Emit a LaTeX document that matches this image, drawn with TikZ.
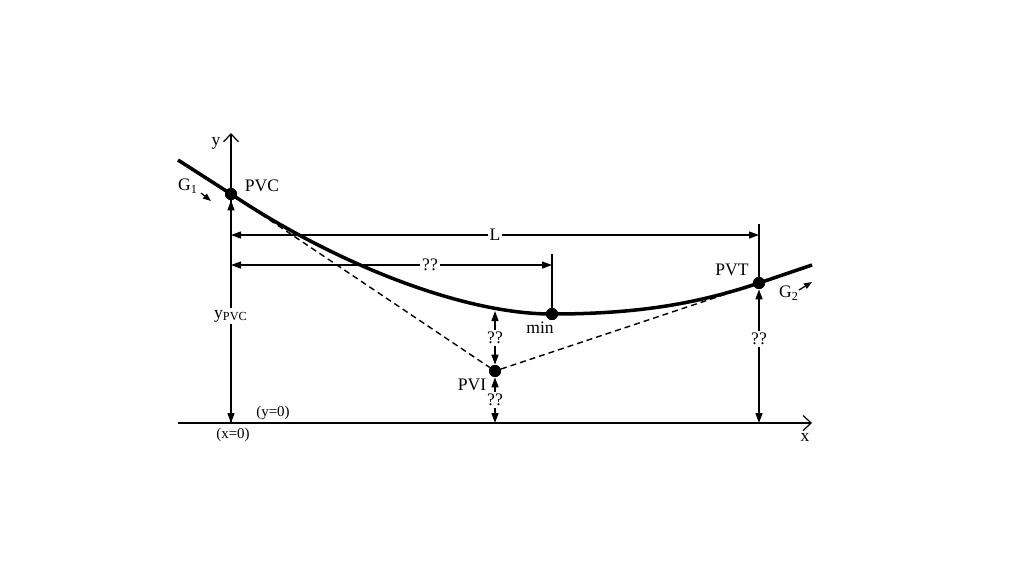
\documentclass[tikz,border=0pt]{standalone}
\usepackage{fontspec}
\setmainfont{Liberation Serif}
\usetikzlibrary{positioning,calc,arrows.meta}
\tikzset{
	%points on the profile and text
	pt/.style = {circle, fill=black, inner sep=0pt, minimum size=0.24cm},
	lbl/.style = {font=\fontsize{10}{12}\selectfont, inner sep=1pt},
	small/.style = {font=\fontsize{8.5}{10}\selectfont, inner sep=1pt},
	cut/.style = {lbl, fill=white},
	%lines
	dim/.style = {{Triangle[length=2mm,width=1.4mm]}-{Triangle[length=2mm,width=1.4mm]}, line width=0.7pt},
	axis/.style = {-{Straight Barb[length=1.6mm,width=3mm]}, line width=0.7pt},
	tang/.style = {line width=0.8pt, dash pattern=on 3.4pt off 2.3pt},
	road/.style = {line width=2pt}
}

\begin{document}
\begin{tikzpicture}[x=0.02cm, y=-0.02cm]
	\useasboundingbox (0,0) rectangle (1024,576);
	%nodes
	\node[pt] (pvc) at (231,194) {};
	\node[pt] (pvi) at (495,371) {};
	\node[pt] (min) at (552,314) {};
	\node[pt] (pvt) at (759,283) {};
	%coordinates
	\coordinate (o)     at (231,423);
	\coordinate (xs)    at (178,423);
	\coordinate (xe)    at (812,423);
	\coordinate (ye)    at (231,133);
	\coordinate (c0)    at (178,160);
	\coordinate (c1)    at (812,265);
	\coordinate (la)    at (231,235);
	\coordinate (lb)    at (759,235);
	\coordinate (lt)    at (759,224);
	\coordinate (ma)    at (231,265);
	\coordinate (mb)    at (552,265);
	\coordinate (mt)    at (552,254);
	\coordinate (cb)    at (495,311);
	\coordinate (xi)    at (495,423);
	\coordinate (xt)    at (759,423);
	\coordinate (g1a)   at (201,193);
	\coordinate (g1b)   at (211,201);
	\coordinate (g2a)   at (799,290);
	\coordinate (g2b)   at (812,282);
	%axes
	\draw[axis] (xs) -- (xe);
	\draw[axis] (o)  -- (ye);
	%tangents and curve
	\draw[tang] (pvc) -- (pvi) -- (pvt);
	\draw[road] (c0) -- (pvc.center)
		.. controls (331,261) and (460,314) .. (min.center)
		.. controls (640,314) and (699,303) .. (pvt.center) -- (c1);
	\node[pt] at (pvc) {};
	\node[pt] at (pvi) {};
	\node[pt] at (min) {};
	\node[pt] at (pvt) {};
	%dimensions
	\draw[dim] (la) -- node[cut]{L} (lb);
	\draw[line width=0.7pt] (lt) -- (pvt);
	\draw[dim] (ma) -- node[cut, pos=0.62]{??} (mb);
	\draw[line width=0.7pt] (mt) -- (min);
	\draw[dim] (pvc) -- node[cut, pos=0.52]{y\textsubscript{PVC}} (o);
	\draw[dim] (cb)  -- node[cut]{??} (pvi);
	\draw[dim] (pvi) -- node[cut]{??} (xi);
	\draw[dim] (pvt) -- node[cut, pos=0.37]{??} (xt);
	%grades
	\draw[-{Triangle[length=1.6mm,width=1.2mm]}, line width=0.7pt] (g1a) -- (g1b);
	\draw[-{Triangle[length=1.6mm,width=1.2mm]}, line width=0.7pt] (g2a) -- (g2b);
	%labels
	\node[lbl]   (ylbl)   at (216,143) {y};
	\node[lbl]   (xlbl)   at (805,437) {x};
	\node[lbl]   (g1)     at (188,186) {G\textsubscript{1}};
	\node[lbl]   (g2)     at (789,293) {G\textsubscript{2}};
	\node[lbl]   (pvclbl) at (262,186) {PVC};
	\node[lbl]   (pvtlbl) at (732,270) {PVT};
	\node[lbl]   (pvilbl) at (472,385) {PVI};
	\node[lbl]   (minlbl) at (540,328) {min};
	\node[small] (y0)     at (273,413) {(y=0)};
	\node[small] (x0)     at (233,435) {(x=0)};
\end{tikzpicture}
\end{document}
